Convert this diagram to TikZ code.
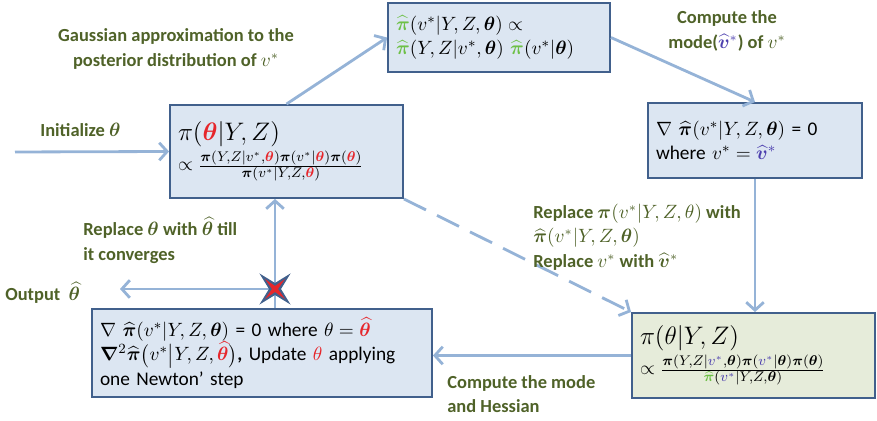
\documentclass[tikz,border=0pt]{standalone}
\usepackage{amsmath, amssymb, bm}
\usepackage{fontspec}
\setmainfont{Carlito}
\usetikzlibrary{arrows.meta, positioning, calc}
\definecolor{boxBlue}{HTML}{DCE6F2}
\definecolor{boxGreen}{HTML}{E6ECDA}
\definecolor{edgeBlue}{HTML}{41608C}
\definecolor{flowBlue}{HTML}{95B3D7}
\definecolor{labOlive}{HTML}{4F6228}
\definecolor{hatGreen}{HTML}{6DC046}
\definecolor{thRed}{HTML}{E6262B}
\definecolor{modePurple}{HTML}{4C3FAE}
\newcommand{\bth}{\boldsymbol{\theta}}
\newcommand{\bpi}{\boldsymbol{\pi}}
\newcommand{\rth}{\textcolor{thRed}{\boldsymbol{\theta}}}
\newcommand{\hpi}{\widehat{\boldsymbol{\pi}}}
\newcommand{\ghpi}{\textcolor{hatGreen}{\hpi}}
\newcommand{\vhat}{\textcolor{modePurple}{\widehat{\boldsymbol{v}}^{*}}}
\newcommand{\pv}{\textcolor{modePurple}{v^{*}}}
\newcommand{\bigline}{\fontsize{13.5}{15}\selectfont}

\begin{document}
\begin{tikzpicture}[x=0.02cm, y=-0.02cm, font=\fontsize{10.5}{12.6}\selectfont,
  box/.style={draw=edgeBlue, line width=1.1pt, fill=boxBlue, align=left,
              inner xsep=0.16cm, inner ysep=0.1cm, font=\fontsize{11}{14}\selectfont},
  flow/.style={flowBlue, line width=1.6pt, -{Straight Barb[length=4.5pt, width=10pt]}},
  lab/.style={labOlive, font=\fontsize{10.5}{14}\selectfont\bfseries, inner sep=0pt}]
  \useasboundingbox (0,0) rectangle (877,421);
  % boxes
  \node[box, text width=4.12cm, minimum height=1.38cm] (b1) at (499,37.5)
    {$\ghpi(v^*|Y,Z,\bth)\propto$\\ $\ghpi(Y,Z|v^*,\bth)\ \ghpi(v^*|\bth)$};
  \node[box, text width=4.34cm, minimum height=1.86cm] (b2) at (286.5,151.5)
    {{\bigline $\pi(\rth|Y,Z)$}\\[1pt]
     $\propto\frac{\bpi(Y,Z|v^*,\rth)\bpi(v^*|\rth)\bpi(\rth)}{\bpi(v^*|Y,Z,\rth)}$};
  \node[box, text width=3.96cm, minimum height=1.5cm] (b3) at (755,140.5)
    {$\nabla\ \hpi(v^*|Y,Z,\bth)$ = 0\\ where $v^*=\vhat$\\[6pt]};
  \node[box, text width=6.48cm, minimum height=1.76cm] (b4) at (262,353)
    {$\nabla\ \hpi(v^*|Y,Z,\bth)$ = 0 where $\theta=\textcolor{thRed}{\widehat{\bth}}$\\
     $\boldsymbol{\nabla}^2\hpi\bigl(v^*\big|Y,Z,\textcolor{thRed}{\widehat{\bth}}\bigr)$\textbf{,}
     Update \textcolor{thRed}{$\theta$} applying\\ one Newton’ step};
  \node[box, fill=boxGreen, text width=4.54cm, minimum height=1.7cm] (b5) at (753.5,355.5)
    {{\bigline $\pi(\theta|Y,Z)$}\\[1pt]
     $\propto\frac{\bpi(Y,Z|\pv,\bth)\bpi(\pv|\bth)\bpi(\bth)}{\ghpi(\pv|Y,Z,\bth)}$};
  % free ends
  \coordinate (init) at (15,152);
  \coordinate (cross) at (275,289);
  \coordinate (out) at (120,289);
  % connectors
  \draw[flow] (init) -- (b2.west);
  \draw[flow] (b2.north) -- (b1.west);
  \draw[flow] (b1.east) -- (b3.north);
  \draw[flow] (b3.south) -- (b3.south |- b5.north);
  \draw[flow, dash pattern=on 14pt off 7pt] (b2.south east) -- (b5.north west);
  \draw[flow] (b5.west) -- (b5.west -| b4.east);
  \draw[flow] (cross |- b4.north) -- (cross |- b2.south);
  \draw[flow] (cross) -- (out);
  % stop mark
  \fill[edgeBlue] ($(cross)+(45:22)$) -- ($(cross)+(90:6)$) -- ($(cross)+(135:22)$)
    -- ($(cross)+(180:6)$) -- ($(cross)+(225:22)$) -- ($(cross)+(270:6)$)
    -- ($(cross)+(315:22)$) -- ($(cross)+(0:6)$) -- cycle;
  \fill[thRed] ($(cross)+(45:14)$) -- ($(cross)+(90:3)$) -- ($(cross)+(135:14)$)
    -- ($(cross)+(180:3)$) -- ($(cross)+(225:14)$) -- ($(cross)+(270:3)$)
    -- ($(cross)+(315:14)$) -- ($(cross)+(0:3)$) -- cycle;
  % labels
  \node[lab, align=center] (gauss) at (176,49)
    {Gaussian approximation to the\\ posterior distribution of $v^*$};
  \node[lab, align=center] (mode) at (727,31)
    {Compute the\\ mode($\vhat$) of $v^*$};
  \node[lab, anchor=west] (initlab) at (40,130) {Initialize $\bth$};
  \node[lab, anchor=west, align=left] (repth) at (83,240)
    {Replace $\bth$ with $\widehat{\bth}$ till\\ it converges};
  \node[lab, anchor=west] (outlab) at (5,293) {Output \ $\widehat{\bth}$};
  \node[lab, anchor=west, align=left] (reppi) at (533,237)
    {Replace $\bpi(v^*|Y,Z,\theta)$ with\\ $\hpi(v^*|Y,Z,\bth)$\\ Replace $v^*$ with $\widehat{\boldsymbol{v}}^*$};
  \node[lab, anchor=west, align=left] (hess) at (447,394)
    {Compute the mode\\ and Hessian};
\end{tikzpicture}
\end{document}
